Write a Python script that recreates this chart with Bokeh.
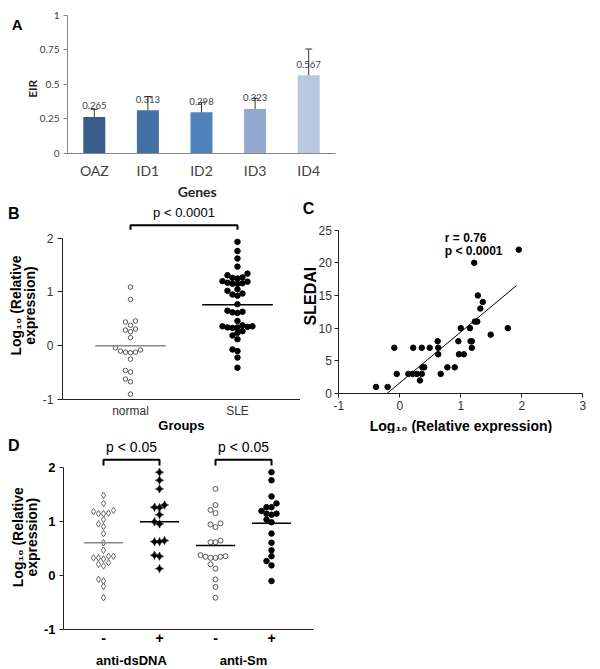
import math
from bokeh.plotting import figure
from bokeh.models import (ColumnDataSource, FixedTicker, Label, Whisker, TeeHead,
                          LabelSet, Range1d)
from bokeh.layouts import column, row
from bokeh.embed import file_html
from bokeh.resources import INLINE
from bokeh.core.properties import value

# ---------------- data ----------------
# Panel A
genes = ["OAZ", "ID1", "ID2", "ID3", "ID4"]
eir = [0.265, 0.313, 0.298, 0.323, 0.567]
eir_err = [0.055, 0.10, 0.07, 0.077, 0.19]
eir_text = ["0.265", "0.313", "0.298", "0.323", "0.567"]
bar_colors = ["#385D8A", "#4470A6", "#4F81BD", "#94A9CF", "#B9C8E1"]
a_ticks = [0, 0.25, 0.5, 0.75, 1]
a_tick_labels = ["0", "0.25", "0.5", "0.75", "1"]

# Panel B
b_groups = ["normal", "SLE"]
normal_vals = [1.09, 0.86, 0.46, 0.44, 0.38, 0.31, 0.29, 0.26, 0.15, -0.04, -0.08,
               -0.10, -0.12, -0.12, -0.13, -0.25, -0.46, -0.49, -0.62, -0.67, -0.90]
sle_vals = [1.93, 1.76, 1.62, 1.47, 1.34, 1.31, 1.27, 1.26, 1.25, 1.20, 1.17, 1.15,
            1.15, 1.16, 1.19, 1.05, 1.02, 0.97, 0.95, 0.93, 0.77, 0.65, 0.62, 0.61,
            0.63, 0.46, 0.38, 0.36, 0.35, 0.34, 0.34, 0.33, 0.36, 0.27, 0.24, 0.19,
            0.12, -0.07, -0.10, -0.22, -0.41]
b_means = [0.0, 0.76]
b_ticks = [-1, 0, 1, 2]

# Panel C
c_x = [-0.39, -0.20, -0.09, -0.05, 0.14, 0.22, 0.21, 0.28, 0.33, 0.36, 0.36, 0.37,
       0.40, 0.49, 0.62, 0.63, 0.63, 0.67, 0.78, 0.90, 0.96, 0.97, 1.00, 1.05, 1.15,
       1.16, 1.18, 1.18, 1.22, 1.23, 1.27, 1.28, 1.32, 1.36, 1.49, 1.77, 1.95]
c_y = [1, 1, 7, 3, 3, 7, 3, 3, 2, 7, 3, 4, 4, 7, 8, 7, 6, 3, 4, 4, 8, 6, 10, 6, 10,
       8, 8, 7, 20, 11, 11, 15, 13, 14, 9, 10, 22]
fit_x = [-0.21, 1.91]
fit_y = [0.0, 16.5]
c_xticks = [-1, 0, 1, 2, 3]
c_yticks = [0, 5, 10, 15, 20, 25]

# Panel D
d_tick_labels = ["-", "+", "-", "+"]
d_groups = ["anti-dsDNA", "anti-Sm"]
dsdna_neg = [1.49, 1.34, 1.21, 1.16, 1.15, 1.15, 1.19, 1.04, 0.96, 0.91, 0.78, 0.61,
             0.47, 0.36, 0.33, 0.31, 0.33, 0.36, 0.21, 0.18, 0.24, -0.07, -0.10,
             -0.20, -0.41]
dsdna_pos = [1.92, 1.77, 1.61, 1.31, 1.27, 1.26, 1.13, 1.00, 0.96, 0.65, 0.63, 0.63,
             0.38, 0.36, 0.13]
sm_neg = [1.61, 1.31, 1.22, 1.16, 0.97, 0.95, 0.90, 0.65, 0.62, 0.62, 0.38, 0.36,
          0.35, 0.35, 0.33, 0.33, 0.21, 0.13, -0.07, -0.21, -0.41]
sm_pos = [1.92, 1.77, 1.47, 1.34, 1.27, 1.27, 1.20, 1.15, 1.15, 1.13, 1.04, 0.99,
          0.78, 0.61, 0.47, 0.36, 0.27, 0.19, -0.10]
d_means = [0.61, 1.00, 0.56, 0.97]

FONT = "Liberation Sans"


# ---------------- helpers ----------------
def make_fig(width, height, xr, yr):
    # the frame fills the whole figure; axes are pinned with fixed_location
    p = figure(width=width, height=height, x_range=Range1d(*xr), y_range=Range1d(*yr),
               min_border=0, toolbar_location=None, tools="",
               output_backend="svg")
    p.outline_line_color = None
    p.xgrid.visible = False
    p.ygrid.visible = False
    p.background_fill_color = "white"
    p.border_fill_color = "white"
    return p


def overrides(ticks, labels):
    d = {}
    for t, l in zip(ticks, labels):
        d[t] = l
        d[str(t)] = l
    return d


def style_axis(ax, ticks, labels=None, size="12px", color="#333333", bold=False,
               font=FONT, tick_out=4, standoff=4, line_color="#222222", bounds=None,
               loc=None):
    ax.ticker = FixedTicker(ticks=ticks)
    if labels is not None:
        ax.major_label_overrides = overrides(ticks, labels)
    ax.major_label_text_font = font
    ax.major_label_text_font_size = size
    ax.major_label_text_color = color
    ax.major_label_text_font_style = "bold" if bold else "normal"
    ax.major_tick_out = tick_out
    ax.major_tick_in = 0
    ax.minor_tick_line_color = None
    ax.major_label_standoff = standoff
    ax.axis_line_color = line_color
    ax.major_tick_line_color = line_color if tick_out > 0 else None
    if bounds is not None:
        ax.bounds = bounds
    if loc is not None:
        ax.fixed_location = loc


def lab(p, x, y, text, size, bold=False, color="black", font=FONT, angle=0,
        align="center"):
    p.add_layout(Label(x=x, y=y, text=text, text_font=font,
                       text_font_size=f"{size}px",
                       text_font_style="bold" if bold else "normal",
                       text_color=color, angle=angle, text_align=align,
                       text_baseline="middle"))


def swarm(vals, py, px, d):
    """beeswarm offsets (in x data units) so markers of diameter d px don't overlap"""
    order = sorted(range(len(vals)), key=lambda i: vals[i])
    placed = []
    offs = [0.0] * len(vals)
    cands = [0.0]
    for j in range(1, 30):
        cands += [-j * d, j * d]
    for i in order:
        y = vals[i] * py
        for c in cands:
            if all((c - a) ** 2 + (y - b) ** 2 >= (d * 0.98) ** 2 for a, b in placed):
                break
        placed.append((c, y))
        offs[i] = c / px
    return offs


# ---------------- Panel A ----------------
pa = make_fig(600, 200, (-0.75, 10.444), (-0.3406, 1.1087))
xa = [i + 1 for i in range(len(genes))]
src_a = ColumnDataSource(dict(x=xa, top=eir, color=bar_colors, lab=eir_text,
                              upper=[v + e for v, e in zip(eir, eir_err)]))
pa.vbar(x="x", top="top", width=0.41, fill_color="color", line_color=None, source=src_a)
pa.add_layout(Whisker(base="x", lower="top", upper="upper", source=src_a,
                      line_color="#333333", line_width=1, level="overlay",
                      upper_head=TeeHead(size=7, line_color="#333333", line_width=1),
                      lower_head=None))
pa.add_layout(LabelSet(x="x", y="top", text="lab", source=src_a, y_offset=11,
                       text_align="center", text_baseline="middle",
                       text_font=value("Lato"), text_font_size=value("9.5px"),
                       text_color="#3d3a55"))
style_axis(pa.yaxis[0], a_ticks, a_tick_labels, size="10px", color="#404040",
           font="Lato", tick_out=4, standoff=4, line_color="#868686",
           bounds=(0, 1), loc=0.5)
style_axis(pa.xaxis[0], xa, genes, size="14px", color="#404040", font="Lato",
           tick_out=0, standoff=9, line_color="#868686", bounds=(0.5, 5.5), loc=0)
lab(pa, -0.438, 0.937, "A", 15, bold=True)
lab(pa, -0.159, 0.469, "EIR", 12, bold=True, color="#262626", font="Lato",
    angle=math.pi / 2)
lab(pa, 2.92, -0.273, "Genes", 14, bold=True, color="#262626", font="Lato")

# ---------------- Panel B ----------------
B_PY, B_PX = 53.8, 107.0
pb = make_fig(300, 233, (-0.215, 2.589), (-1.632, 2.699))
off_n = swarm(normal_vals, B_PY, B_PX, 5.0)
off_s = swarm(sle_vals, B_PY, B_PX, 5.0)
pb.scatter(x=[1 + o for o in off_n], y=normal_vals, marker="circle", size=4.5,
           fill_color="white", line_color="#555555", line_width=1)
pb.scatter(x=[2 + o for o in off_s], y=sle_vals, marker="circle", size=5.5,
           fill_color="black", line_color="black")
pb.segment(x0=[i + 1 - 0.33 for i in range(2)], x1=[i + 1 + 0.33 for i in range(2)],
           y0=b_means, y1=b_means, line_color=["#888888", "black"], line_width=1.5)
pb.line(x=[1, 1, 2, 2], y=[2.155, 2.24, 2.24, 2.155], line_color="black", line_width=2)
style_axis(pb.yaxis[0], b_ticks, [str(t) for t in b_ticks], size="12px",
           color="#333333", tick_out=5, standoff=4, bounds=(-1, 2), loc=0.3645)
style_axis(pb.xaxis[0], [1, 2], b_groups, size="12px", color="#333333",
           tick_out=0, standoff=5, bounds=(0.3645, 2.589), loc=-1)
lab(pb, -0.091, 2.457, "B", 16, bold=True)
lab(pb, 1.5, 2.481, "p < 0.0001", 13)
lab(pb, -0.066, 0.747, "Log₁₀ (Relative", 14, bold=True, angle=math.pi / 2)
lab(pb, 0.060, 0.747, "expression)", 14, bold=True, angle=math.pi / 2)
lab(pb, 1.476, -1.483, "Groups", 13, bold=True)

# ---------------- Panel C ----------------
pc = make_fig(300, 233, (-1.628, 3.290), (-6.12, 29.53))
pc.scatter(x=c_x, y=c_y, marker="circle", size=5.5, fill_color="black",
           line_color="black")
pc.line(x=fit_x, y=fit_y, line_color="black", line_width=1)
style_axis(pc.yaxis[0], c_yticks, [str(t) for t in c_yticks], size="12px",
           color="#333333", tick_out=4, standoff=3, bounds=(0, 25), loc=-1)
style_axis(pc.xaxis[0], c_xticks, [str(t) for t in c_xticks], size="12px",
           color="#333333", tick_out=4, standoff=3, bounds=(-1, 3), loc=0)
lab(pc, -1.497, 28.35, "C", 16, bold=True)
lab(pc, 0.738, 23.76, "r = 0.76", 12, bold=True, align="left")
lab(pc, 0.738, 21.77, "p < 0.0001", 12, bold=True, align="left")
lab(pc, -1.466, 14.9, "SLEDAI", 16, bold=True, angle=math.pi / 2)
lab(pc, 1.003, -4.9, "Log₁₀ (Relative expression)", 14, bold=True)

# ---------------- Panel D ----------------
D_PY, D_PX = 53.87, 56.0
pd_ = make_fig(600, 236, (-0.8393, 9.875), (-1.7425, 2.638))
groups_d = [dsdna_neg, dsdna_pos, sm_neg, sm_pos]
marker_d = ["diamond", "square_pin", "circle", "circle"]
size_d = [6.5, 6, 5, 5.5]
fill_d = ["white", "black", "white", "black"]
line_d = ["#666666", "black", "#555555", "black"]
lw_d = [1, 0.5, 1, 1]
angle_d = [0, math.pi / 4, 0, 0]
for gi, vals in enumerate(groups_d):
    offs = swarm(vals, D_PY, D_PX, 5.0)
    pd_.scatter(x=[gi + 1 + o for o in offs], y=vals, marker=marker_d[gi],
                size=size_d[gi], fill_color=fill_d[gi], line_color=line_d[gi],
                line_width=lw_d[gi], angle=angle_d[gi])
pd_.segment(x0=[i + 1 - 0.35 for i in range(4)], x1=[i + 1 + 0.35 for i in range(4)],
            y0=d_means, y1=d_means,
            line_color=["#888888", "black", "black", "black"], line_width=1.5)
for k in range(2):
    a, b = 2 * k + 1, 2 * k + 2
    pd_.line(x=[a, a, b, b], y=[2.044, 2.15, 2.15, 2.044], line_color="black",
             line_width=2)
    lab(pd_, (a + b) / 2, 2.384, "p < 0.05", 14)
    lab(pd_, (a + b) / 2, -1.575, d_groups[k], 13, bold=True)
style_axis(pd_.yaxis[0], b_ticks, [str(t) for t in b_ticks], size="13px",
           color="black", bold=True, tick_out=4, standoff=4, bounds=(-1, 2),
           loc=0.2857)
style_axis(pd_.xaxis[0], [1, 2, 3, 4], d_tick_labels, size="14px", color="black",
           bold=True, tick_out=0, standoff=4, bounds=(0.2857, 4.75), loc=-1)
lab(pd_, -0.602, 2.416, "D", 16, bold=True)
lab(pd_, -0.518, 0.713, "Log₁₀ (Relative", 14, bold=True, angle=math.pi / 2)
lab(pd_, -0.285, 0.713, "expression)", 14, bold=True, angle=math.pi / 2)

layout = column(pa, row(pb, pc), pd_)
open("out.html", "w").write(file_html(layout, INLINE))
